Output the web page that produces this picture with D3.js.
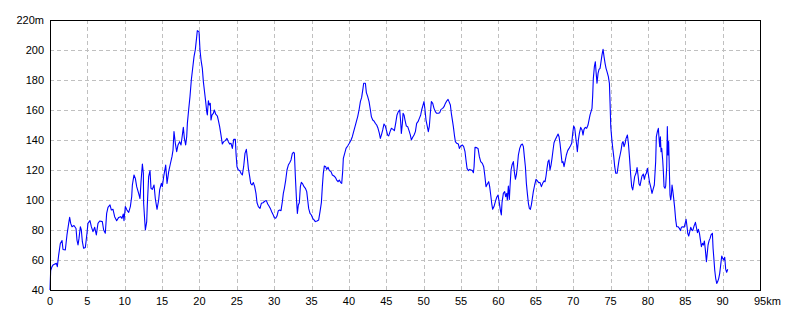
<!DOCTYPE html>
<html><head><meta charset="utf-8">
<script src="https://cdn.jsdelivr.net/npm/d3@7"></script>
<style>
html,body{margin:0;padding:0;background:#fff;}
svg{display:block;}
text{font-family:"Liberation Sans",Arial,sans-serif;font-size:11px;fill:#000;}
</style></head>
<body><svg id="chart" width="800" height="320"></svg>
<script>
// distance (km), elevation (m)
const seg1 = [[0,40],[0.04,46],[0.09,53],[0.27,55.6],[0.40,56.7],[0.85,57.8],[0.98,55.6],[1.16,63.3],[1.38,71],[1.61,73],[1.74,67],
[2.05,66.7],[2.27,76.7],[2.50,84.4],[2.63,88.4],[2.77,84.4],[2.94,82.2],[3.21,83],[3.48,81],[3.61,73.3],[3.75,70],
[3.88,74.4],[4.06,82.2],[4.19,80],[4.33,72.2],[4.50,67.8],[4.73,68.4],[4.95,77.8],[5.08,84.4],[5.35,86.2],[5.53,82.2],
[5.75,78.9],[5.98,81.8],[6.20,76.7],[6.42,84.4],[6.65,86],[7.00,85.6],[7.18,80],[7.40,77.8],[7.58,91.1],[7.76,95.1],
[8.03,96.7],[8.21,93.3],[8.43,93.8],[8.65,88.9],[8.92,86.2],[9.19,88.4],[9.46,88.9],[9.63,87.8],[9.81,90.7],[9.90,86.2],
[10.08,95.6],[10.30,93.3],[10.53,91.8],[10.75,95.6],[10.93,102.2],[11.02,110],[11.24,116.7],[11.42,114.4],[11.60,108.9],[11.86,104.4],
[12.04,101],[12.18,112.2],[12.36,124],[12.49,117.8],[12.53,97.8],[12.67,86.7],[12.76,80],[12.94,85.6],[13.02,96.7],[13.20,115.6],
[13.38,119.6],[13.51,107.8],[13.69,107.1],[13.92,110],[14.09,101],[14.32,93.8],[14.54,100],[14.67,106.7],[14.90,111.1],[15.03,108.9],
[15.21,115.6],[15.48,123.3],[15.66,111.1],[15.88,118.9],[16.10,124],[16.32,128.9],[16.46,133.3],[16.59,145.6],[16.77,137.8],[16.95,132.2],
[17.13,136.7],[17.35,138.9],[17.53,136.7],[17.71,143.3],[17.84,148.4],[17.98,141.1],[18.15,136.7],[18.29,142.2],[18.38,151.1],[18.55,160],
[18.73,168.9],[18.91,180],[19.09,187.8],[19.27,195.6],[19.45,200.4],[19.63,208.9],[19.71,212.9]];
const seg2 = [[19.94,212.2],[20.07,200],[20.21,193.3],[20.38,187.8],[20.52,178.9],[20.65,173.3],[20.83,165.6],[20.97,158.9],[21.05,156.7],
[21.19,166.2],[21.32,163.3],[21.45,164.4],[21.54,153.3],[21.68,156.7],[21.86,157.8],[21.99,160],[22.17,157.3],[22.39,156],[22.52,153.3],
[22.70,148.9],[22.88,143.3],[23.06,137.3],[23.24,138.9],[23.46,139.6],[23.68,141.1],[23.86,138.9],[24.04,137.3],[24.22,137.8],[24.40,134.4],
[24.58,140.4],[24.80,140.4],[24.89,131.1],[25.02,122.2],[25.20,120],[25.38,119.6],[25.56,117.8],[25.74,116.7],[25.91,122.2],[26.09,131.1],
[26.27,133.8],[26.41,127.8],[26.54,121.1],[26.72,115.6],[26.85,111.1],[27.03,110],[27.21,111.6],[27.39,108.9],[27.56,104.4],[27.70,98.2],
[27.88,95.6],[28.10,94.4],[28.28,97.8],[28.50,98.2],[28.77,99.3],[28.95,99.6],[29.13,97.3],[29.30,96],[29.48,94.4],[29.66,92.2],
[29.84,90.4],[30.02,88.2],[30.20,87.8],[30.37,89.3],[30.55,92.9],[30.73,93.3],[30.91,92.9],[31.09,98.9],[31.22,104.4],[31.36,107.8],
[31.54,113.3],[31.71,120],[31.89,123.3],[32.07,124.9],[32.25,126.7],[32.43,131.1],[32.61,131.8],[32.70,131.1],[32.83,115.6],[32.96,102.2],
[33.10,91.1],[33.23,96.7],[33.36,98.2],[33.50,108.9],[33.63,111.8],[33.81,110.7],[33.99,108.9],[34.17,107.8],[34.35,105.6],[34.48,100],
[34.61,94.4],[34.79,91.1],[34.97,90],[35.15,87.8],[35.33,86.7],[35.50,85.6],[35.73,86],[35.95,86.7],[36.13,92.2],[36.31,98.2],
[36.44,108.9],[36.57,117.8],[36.71,122.7],[36.89,122.2],[37.02,120.4],[37.20,121.8],[37.38,119.6],[37.60,118.9],[37.78,116.7],[38.00,116],
[38.18,115.1],[38.36,113.3],[38.54,112.2],[38.71,113.3],[38.89,111.6]];
const seg3 = [[39.03,111.1],[39.16,118.9],[39.25,127.8],[39.43,131.1],[39.61,134.4],[39.83,136],[40.05,137.8],[40.28,140],[40.45,142.2],
[40.63,145.6],[40.81,148.9],[40.99,152.2],[41.17,155.6],[41.35,160],[41.53,165.6],[41.70,168.4],[41.88,174.4],[41.97,177.8],[42.20,177.8],
[42.33,171.6],[42.51,168.9],[42.69,165.6],[42.87,160],[43.00,155.6],[43.18,153.3],[43.35,152.7],[43.53,151.1],[43.71,150],[43.89,147.8],
[44.07,144.4],[44.20,141.1],[44.34,143.3],[44.52,146.7],[44.69,150.7],[44.87,149.3],[45.00,146.7],[45.18,143.3],[45.32,142.7],[45.50,145.6],
[45.68,147.8],[45.90,147.1],[46.08,146.2],[46.25,151.1],[46.43,156.7],[46.61,158.9],[46.79,160],[46.92,152.2],[47.01,144.4],[47.15,151.1],
[47.24,157.8],[47.37,156.7],[47.50,153.3],[47.68,149.3],[47.86,148.9],[48.04,146.2],[48.22,143.3],[48.35,140],[48.53,141.8],[48.71,143.3],
[48.89,145.6],[49.06,151.1],[49.24,152.2],[49.42,154.4],[49.60,156.7],[49.73,160],[49.91,163.3],[50.04,165.6],[50.18,160],[50.31,153.3],
[50.49,148.9],[50.62,145.6],[50.76,149.3],[50.89,157.8],[51.03,165.6],[51.21,164.4],[51.38,161.1],[51.56,158.9],[51.74,157.8],[51.96,157.8],
[52.14,158.2],[52.32,160.4],[52.54,161.1],[52.72,162.2],[52.90,164.4],[53.08,166],[53.26,167.1],[53.39,165.6],[53.57,163.3],[53.70,157.8],
[53.84,153.3],[53.97,148.9],[54.11,143.3],[54.24,138.9],[54.42,137.8],[54.64,137.3],[54.77,134.4],[54.95,136],[55.17,136.7],[55.35,135.6],
[55.53,132.2],[55.66,126.7],[55.80,121.1],[55.98,119.6],[56.16,120.4],[56.33,120],[56.51,119.6],[56.65,118.2],[56.74,122.2],[56.87,135.1],
[57.09,134.9],[57.27,134.4],[57.45,128.9],[57.63,125.6],[57.85,124.4],[58.03,122.2],[58.17,116.7]];
const seg4 = [[58.34,108.9],[58.52,110.7],[58.70,112.2],[58.83,108.9],[58.97,103.3],[59.10,97.8],[59.23,93.8],[59.41,95.6],[59.59,98.9],
[59.77,101.8],[59.95,103.3],[60.13,97.8],[60.26,93.3],[60.39,90],[60.48,98.2],[60.66,104.4],[60.84,105.6],[60.97,102.2],[61.11,104.4],
[61.19,100],[61.33,109.3],[61.46,100.4],[61.55,108.9],[61.69,120],[61.82,123.3],[62.00,125.6],[62.13,118.9],[62.27,113.8],[62.40,116.7],
[62.53,122.2],[62.67,130],[62.85,134.4],[63.02,136.7],[63.20,137.3],[63.34,135.6],[63.47,128.9],[63.61,122.2],[63.74,111.1],[63.87,104.4],
[64.01,97.8],[64.14,94.4],[64.27,93.8],[64.41,96.7],[64.54,101.1],[64.67,105.6],[64.85,110],[65.03,113.8],[65.21,112.7],[65.39,111.6],
[65.57,111.6],[65.75,108.9],[65.92,111.1],[66.10,112.7],[66.24,112.2],[66.37,116],[66.50,121.1],[66.64,125.6],[66.77,126.7],[66.90,120],
[67.04,123.3],[67.17,127.8],[67.31,133.3],[67.44,138.2],[67.62,140.4],[67.80,142.2],[67.98,144],[68.11,142.2],[68.24,137.8],[68.38,131.1],
[68.51,124.9],[68.64,125.6],[68.78,122.2],[68.96,126.7],[69.09,130],[69.27,132.9],[69.45,134.4],[69.63,136],[69.81,137.8],[69.94,144.4],
[70.07,149.3],[70.21,147.8],[70.34,142.2],[70.47,136.7],[70.56,132.2],[70.70,140],[70.83,144.4],[71.01,148.4],[71.19,146.7],[71.32,143.3],
[71.45,147.1],[71.63,148.4],[71.81,147.8],[71.99,150],[72.12,153.3],[72.26,156.7],[72.39,158.9],[72.52,161.1],[72.61,169.3],[72.70,181.1],
[72.84,188.9],[72.97,192.2],[73.06,185.6],[73.19,177.8],[73.33,184.4],[73.46,187.1],[73.60,187.8],[73.73,192.2],[73.86,196.7],[74.00,200.4],
[74.13,195.6],[74.27,191.1],[74.40,187.8],[74.53,185.6],[74.71,182.2],[74.85,177.8],[74.94,164.4],[75.03,148.9],[75.16,141.1],[75.30,134.4],
[75.43,128.9],[75.56,122.2],[75.70,117.8],[75.88,117.8],[76.01,122.2],[76.14,126.7],[76.28,130],[76.41,133.3],[76.55,137.8],[76.68,138.9],
[76.81,135.6],[76.95,137.8],[77.08,141.1],[77.26,143.3],[77.39,137.8],[77.53,128.9]];
const seg5 = [[77.70,116.7],[77.83,108.9],[77.97,106.7],[78.10,111.1],[78.23,115.6],[78.41,117.8],[78.55,121.6],[78.68,116.7],[78.81,110.7],
[78.95,109.6],[79.08,112.9],[79.21,116],[79.39,117.3],[79.53,113.8],[79.66,116.7],[79.79,117.8],[79.93,121.1],[80.06,117.3],[80.20,112.2],
[80.37,108.9],[80.55,104.4],[80.73,107.8],[80.86,110],[80.95,117.8],[81.04,125.6],[81.13,142.2],[81.27,145.6],[81.40,147.8],[81.49,141.1],
[81.58,135.6],[81.67,142.2],[81.76,132.2],[81.85,134.4],[81.98,126.7],[82.07,118.9],[82.16,108.9],[82.29,107.8],[82.38,109.3],[82.52,122.2],
[82.60,148.9],[82.69,130],[82.78,138.9],[82.87,120],[82.96,103.3],[83.05,100],[83.14,103.3],[83.23,110],[83.32,106.7],[83.45,101.1],
[83.59,94.4],[83.72,86.7],[83.85,82.2],[84.03,82.2],[84.21,81.1],[84.35,79.6],[84.48,81.8],[84.66,82.2],[84.84,81.8],[84.97,84],
[85.11,87.1],[85.24,82.2],[85.33,77.8],[85.46,76],[85.60,78.9],[85.73,81.8],[85.87,80],[86.00,79.6],[86.18,82.7],[86.36,85.1],
[86.49,81.8],[86.63,78.2],[86.76,80.4],[86.90,77.8],[87.03,73.3],[87.16,68.9],[87.30,71.1],[87.43,70],[87.56,72.7],[87.69,66.7],
[87.83,58.9],[87.92,63.3],[88.05,70],[88.19,72.9],[88.32,74.4],[88.45,76.7],[88.63,77.8],[88.72,67.8],[88.81,62.2],[88.94,53.3],
[89.07,47.8],[89.21,44.4],[89.34,45.6],[89.48,47.8],[89.61,51.1],[89.74,56.7],[89.88,62.7],[90.01,61.1],[90.14,60],[90.28,61.8],
[90.41,53.8],[90.54,51.8],[90.68,53.8]];

const xTicks = [0,5,10,15,20,25,30,35,40,45,50,55,60,65,70,75,80,85,90,95];
const yTicks = [40,60,80,100,120,140,160,180,200,220];
const xUnit = "km";
const yUnit = "m";

const profile = seg1.concat(seg2, seg3, seg4, seg5);

const svg = d3.select("#chart");
const L = 50, R = 760, T = 20, B = 290;
const x = d3.scaleLinear().domain([0, 95]).range([L, R]);
const y = d3.scaleLinear().domain([40, 220]).range([B, T]);

// grid
const grid = svg.append("g").attr("shape-rendering", "crispEdges")
  .attr("stroke", "#c0c0c0").attr("stroke-width", 1).attr("stroke-dasharray", "4,3");
grid.selectAll("line.v").data(xTicks.filter(d => d > 0 && d < 95)).enter().append("line")
  .attr("x1", d => Math.round(x(d)) + 0.5).attr("x2", d => Math.round(x(d)) + 0.5)
  .attr("y1", T).attr("y2", B);
grid.selectAll("line.h").data(yTicks.filter(d => d > 40 && d < 220)).enter().append("line")
  .attr("y1", d => Math.round(y(d)) + 0.5).attr("y2", d => Math.round(y(d)) + 0.5)
  .attr("x1", L).attr("x2", R);

// profile line
const line = d3.line().x(d => x(d[0])).y(d => y(d[1]));
svg.append("path").datum(profile).attr("d", line)
  .attr("fill", "none").attr("stroke", "#0000ff").attr("stroke-width", 1.1)
  .attr("stroke-linejoin", "round");

// frame
svg.append("rect").attr("x", L + 0.5).attr("y", T + 0.5).attr("width", R - L).attr("height", B - T)
  .attr("fill", "none").attr("stroke", "#000").attr("stroke-width", 1).attr("shape-rendering", "crispEdges");

// y labels
svg.append("g").selectAll("text").data(yTicks).enter().append("text")
  .attr("x", 44).attr("y", d => y(d)).attr("dy", "0.35em").attr("text-anchor", "end")
  .text(d => d === 220 ? d + yUnit : d);

// x labels
const xl = svg.append("g");
xTicks.forEach(d => {
  const t = xl.append("text").attr("x", x(d)).attr("y", 305).attr("text-anchor", "middle").text(d);
  if (d === 95) {
    const w = t.node().getComputedTextLength();
    xl.append("text").attr("x", x(d) + w / 2).attr("y", 305).attr("text-anchor", "start").text(xUnit);
  }
});
</script></body></html>
